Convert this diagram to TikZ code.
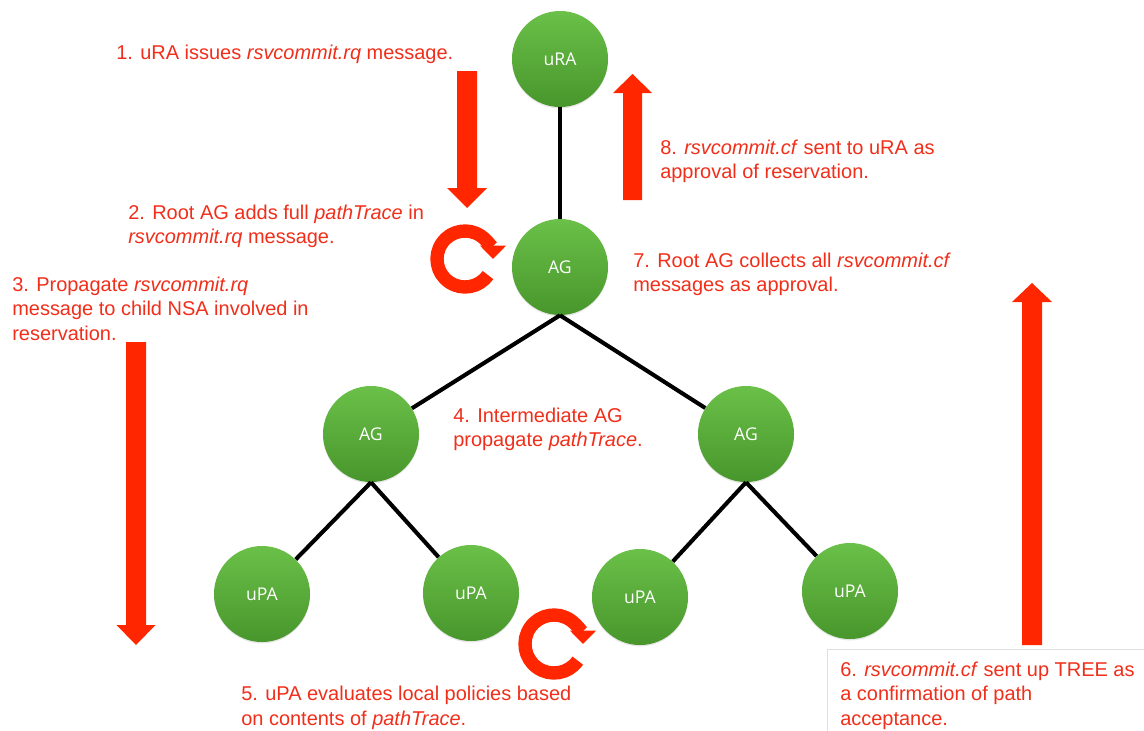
\documentclass[tikz,border=0pt]{standalone}
\usepackage{fontspec}
\setmainfont{Liberation Sans}
\newfontfamily\nodefont{Open Sans}
\usepackage{xcolor}
\usepackage{tikz}
\usetikzlibrary{arrows.meta,shadows}

\definecolor{nodetop}{RGB}{106,192,72}
\definecolor{nodebot}{RGB}{72,150,44}
\definecolor{alertred}{RGB}{255,38,0}
\definecolor{notered}{RGB}{240,46,26}

\begin{document}
\begin{tikzpicture}[
    x=0.025cm, y=-0.025cm,
    agent/.style={circle, minimum size=2.4cm, inner sep=0pt, top color=nodetop, bottom color=nodebot,
        drop shadow={opacity=0.2, shadow xshift=0pt, shadow yshift=-1pt},
        text=white, font=\nodefont\fontsize{12.5}{14}\selectfont},
    link/.style={line width=2.9pt, black},
    note/.style={anchor=base west, align=left, inner sep=0pt, text=notered, font=\fontsize{14.2}{17.4}\selectfont},
    bigarrow/.style={fill=alertred},
    spin/.style={draw=alertred, line width=9.5pt, -{Triangle[width=18pt,length=9.5pt]}}
]
    \useasboundingbox (0,0) rectangle (1144,730);

    % Tree
    \node[agent] (ura) at (560,59) {uRA};
    \node[agent] (ag) at (560,267) {AG};
    \node[agent] (agl) at (371,434) {AG};
    \node[agent] (agr) at (746,434) {AG};
    \node[agent] (upa1) at (262,594) {uPA};
    \node[agent] (upa2) at (471,593) {uPA};
    \node[agent] (upa3) at (640,597) {uPA};
    \node[agent] (upa4) at (850,591) {uPA};

    % Links
    \draw[link] (ura) -- (ag);
    \draw[link] (ag.south) -- (agl);
    \draw[link] (ag.south) -- (agr);
    \draw[link] (agl.south) -- (upa1);
    \draw[link] (agl.south) -- (upa2);
    \draw[link] (agr.south) -- (upa3);
    \draw[link] (agr.south) -- (upa4);

    % Block arrows
    \fill[bigarrow] (457,71) -- (477,71) -- (477,188) -- (487,188) -- (467,208) -- (447,188) -- (457,188) -- cycle;
    \fill[bigarrow] (623,200) -- (642,200) -- (642,93) -- (652,93) -- (632.5,74) -- (613,93) -- (623,93) -- cycle;
    \fill[bigarrow] (126,342) -- (146,342) -- (146,625) -- (155.5,625) -- (136,645) -- (116.5,625) -- (126,625) -- cycle;
    \fill[bigarrow] (1022,645) -- (1042,645) -- (1042,302) -- (1052,302) -- (1032,283) -- (1012,302) -- (1022,302) -- cycle;

    % Loops
    \coordinate (turnag) at (465,259);
    \coordinate (turnupa) at (554,644);
    \draw[spin] ([shift={(35:28)}]turnag) arc[start angle=35, end angle=360, radius=28];
    \draw[spin] ([shift={(35:29)}]turnupa) arc[start angle=35, end angle=360, radius=29];

    % Box of step 6
    \draw[black!12, line width=0.5pt] (827,740) |- (1150,649);

    % Labels (placed at the baseline of their last line)
    \node[note] (n1) at (116,59) {1. uRA issues \textit{rsvcommit.rq} message.};
    \node[note] (n2) at (128,243.5) {2. Root AG adds full \textit{pathTrace} in\\\textit{rsvcommit.rq} message.};
    \node[note] (n3) at (12,340) {3. Propagate \textit{rsvcommit.rq}\\message to child NSA involved in\\reservation.};
    \node[note] (n4) at (453,446.5) {4. Intermediate AG\\propagate \textit{pathTrace}.};
    \node[note] (n5) at (241,725) {5. uPA evaluates local policies based\\on contents of \textit{pathTrace}.};
    \node[note] (n6) at (840,725) {6. \textit{rsvcommit.cf} sent up TREE as\\a confirmation of path\\acceptance.};
    \node[note] (n7) at (633,291.5) {7. Root AG collects all \textit{rsvcommit.cf}\\messages as approval.};
    \node[note] (n8) at (660,178.5) {8. \textit{rsvcommit.cf} sent to uRA as\\approval of reservation.};

\end{tikzpicture}
\end{document}
